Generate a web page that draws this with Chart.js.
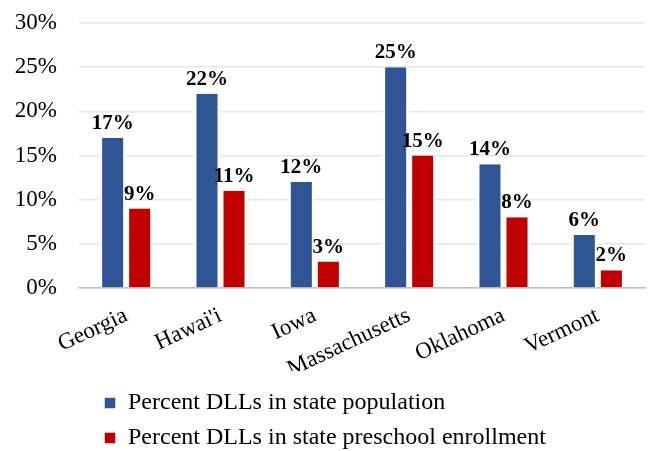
<!DOCTYPE html>
<html>
<head>
<meta charset="utf-8">
<script src="https://cdn.jsdelivr.net/npm/chart.js@4.4.1/dist/chart.umd.min.js"></script>
<style>
  html, body { margin: 0; padding: 0; background: #fff; }
  #wrap { width: 653px; height: 451px; }
</style>
</head>
<body>
<div id="wrap"><canvas id="dllChart"></canvas></div>
<script>
// chart data
var states = ["Georgia", "Hawai'i", "Iowa", "Massachusetts", "Oklahoma", "Vermont"];
var popPercent = [17, 22, 12, 25, 14, 6];
var preschoolPercent = [9, 11, 3, 15, 8, 2];
var seriesNames = ["Percent DLLs in state population", "Percent DLLs in state preschool enrollment"];
var yTicks = [0, 5, 10, 15, 20, 25, 30];

var serif = "'Liberation Serif', 'Times New Roman', serif";

// draws the value above each bar
var valueLabels = {
    id: 'valueLabels',
    afterDatasetsDraw: function (chart) {
        var ctx = chart.ctx;
        ctx.save();
        ctx.font = "bold 21px " + serif;
        ctx.fillStyle = "#000";
        ctx.textAlign = "center";
        ctx.textBaseline = "alphabetic";
        chart.data.datasets.forEach(function (ds, i) {
            var meta = chart.getDatasetMeta(i);
            meta.data.forEach(function (bar, j) {
                ctx.fillText(ds.data[j] + "%", bar.x, bar.y - 9);
            });
        });
        ctx.restore();
    }
};

// put the legend where the original has it
var legendMove = {
    id: 'legendMove',
    afterLayout: function (chart) {
        chart.legend.left = 93;
        chart.legend.top = 380;
    }
};

var ctx = document.getElementById("dllChart").getContext("2d");
var chart = new Chart(ctx, {
    type: 'bar',
    data: {
        labels: states,
        datasets: [
            {
                label: seriesNames[0],
                data: popPercent,
                backgroundColor: '#2F5597',
                borderColor: '#ffffff',
                borderWidth: { left: 3, right: 3, top: 0, bottom: 0 },
                borderSkipped: false
            },
            {
                label: seriesNames[1],
                data: preschoolPercent,
                backgroundColor: '#C00000',
                borderColor: '#ffffff',
                borderWidth: { left: 3, right: 3, top: 0, bottom: 0 },
                borderSkipped: false
            }
        ]
    },
    options: {
        responsive: true,
        maintainAspectRatio: false,
        animation: false,
        categoryPercentage: 0.573,
        barPercentage: 1.0,
        layout: { padding: { left: 0, right: 8, top: 23, bottom: 0 } },
        plugins: {
            tooltip: { enabled: false },
            legend: {
                position: 'bottom',
                align: 'start',
                fullSize: false,
                labels: {
                    color: '#000',
                    font: { family: serif, size: 24 },
                    boxWidth: 12,
                    boxHeight: 12,
                    padding: 11
                }
            }
        },
        scales: {
            x: {
                grid: { display: false, drawTicks: false },
                border: { display: true, color: '#bfbfbf', width: 1.5 },
                ticks: {
                    color: '#000',
                    font: { family: serif, size: 23 },
                    minRotation: 25,
                    maxRotation: 25,
                    padding: 14
                },
                afterFit: function (scale) {
                    scale.paddingLeft = 0;
                    scale.paddingRight = 0;
                    scale.height = 83;
                }
            },
            y: {
                min: 0,
                max: 30,
                afterBuildTicks: function (axis) {
                    axis.ticks = yTicks.map(function (v) { return { value: v }; });
                },
                grid: { color: '#e6e6e6', lineWidth: 1.5, drawTicks: false },
                border: { display: false },
                ticks: {
                    color: '#000',
                    font: { family: serif, size: 23 },
                    padding: 22,
                    callback: function (v) { return v + '%'; }
                },
                afterFit: function (scale) {
                    scale.width = 79;
                    scale.paddingTop = 0;
                    scale.paddingBottom = 0;
                }
            }
        }
    },
    plugins: [valueLabels, legendMove]
});
</script>
</body>
</html>
